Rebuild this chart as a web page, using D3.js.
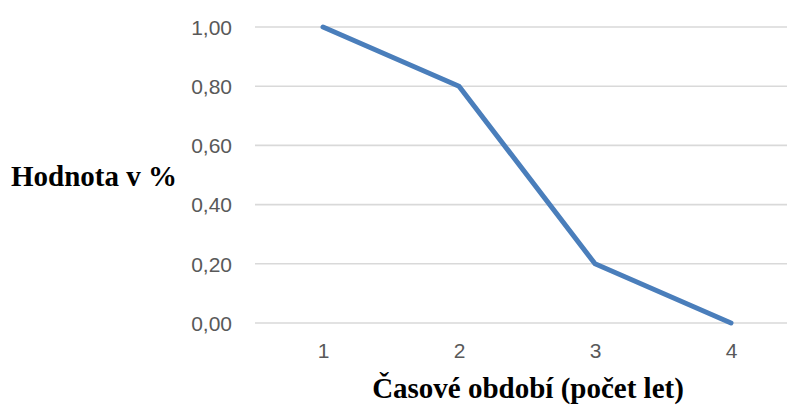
<!DOCTYPE html>
<html>
<head>
<meta charset="utf-8">
<script src="https://cdn.jsdelivr.net/npm/d3@7"></script>
<style>
  body { margin: 0; background: #fff; }
  .tick text { font-family: "Liberation Sans", Arial, sans-serif; font-size: 21px; fill: #595959; }
  .title { font-family: "Liberation Serif", "Times New Roman", serif; font-weight: bold; font-size: 29px; fill: #000; }
</style>
</head>
<body>
<div id="chart"></div>
<script>
// Years and the value left after each year
const periods = ["1", "2", "3", "4"];
const values = [1.0, 0.8, 0.2, 0.0];
const yTicks = [0, 0.2, 0.4, 0.6, 0.8, 1.0];

const width = 787;
const height = 408;

const svg = d3.select("#chart")
    .append("svg")
    .attr("width", width)
    .attr("height", height);

// plot area runs a bit past the right edge, like the original crop
const x = d3.scalePoint()
    .domain(periods)
    .range([255, 799])
    .padding(0.5);

const y = d3.scaleLinear()
    .domain([0, 1])
    .range([323, 27]);

const fmt = d => d3.format(".2f")(d).replace(".", ",");

// gridlines + y labels
const yAxis = svg.append("g")
    .attr("transform", "translate(255,0)")
    .call(d3.axisLeft(y).tickValues(yTicks).tickFormat(fmt).tickSize(0).tickPadding(23));
yAxis.select(".domain").remove();
yAxis.selectAll(".tick text").attr("dy", "0.35em");

svg.append("g")
    .selectAll("line")
    .data(yTicks)
    .enter()
    .append("line")
    .attr("x1", 255)
    .attr("x2", 799)
    .attr("y1", d => y(d))
    .attr("y2", d => y(d))
    .attr("stroke", "#d9d9d9")
    .attr("stroke-width", 1.6);

// x labels
const xAxis = svg.append("g")
    .attr("transform", "translate(0,323)")
    .call(d3.axisBottom(x).tickSize(0).tickPadding(35));
xAxis.select(".domain").remove();
xAxis.selectAll(".tick text").attr("dy", 0);

// the line
const line = d3.line()
    .x((d, i) => x(periods[i]))
    .y(d => y(d));

svg.append("path")
    .datum(values)
    .attr("d", line)
    .attr("fill", "none")
    .attr("stroke", "#4a7ebb")
    .attr("stroke-width", 5)
    .attr("stroke-linejoin", "round")
    .attr("stroke-linecap", "round");

// axis titles
svg.append("text")
    .attr("class", "title")
    .attr("x", 11)
    .attr("y", 186)
    .text("Hodnota v %");

svg.append("text")
    .attr("class", "title")
    .attr("x", 528)
    .attr("y", 398)
    .attr("text-anchor", "middle")
    .text("Časové období (počet let)");
</script>
</body>
</html>
